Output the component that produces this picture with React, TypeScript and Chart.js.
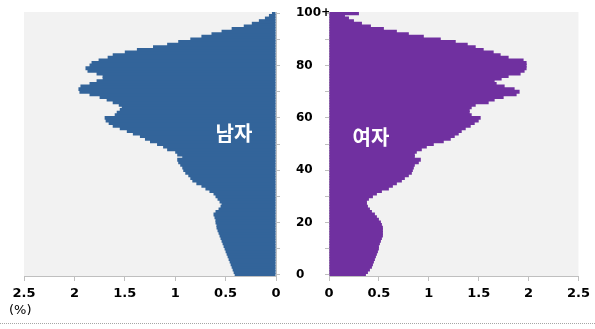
import React, { useEffect, useRef } from "react";
import { Chart, registerables } from "chart.js";

Chart.register(...registerables);

// Ages 0..100 (the last one is "100+")
const AGES: number[] = Array.from({ length: 101 }, (_, i) => i);

const MALE: number[] = [
  0.41, 0.42, 0.43, 0.44, 0.45, 0.46, 0.47, 0.48, 0.49, 0.50,
  0.51, 0.52, 0.53, 0.54, 0.55, 0.56, 0.57, 0.58, 0.59, 0.59,
  0.60, 0.60, 0.61, 0.62, 0.60, 0.57, 0.55, 0.54, 0.56, 0.58,
  0.60, 0.62, 0.66, 0.70, 0.74, 0.79, 0.83, 0.85, 0.87, 0.90,
  0.92, 0.93, 0.95, 0.97, 0.98, 0.93, 0.98, 1.00, 1.08, 1.12,
  1.18, 1.25, 1.30, 1.35, 1.42, 1.48, 1.55, 1.62, 1.66, 1.69,
  1.70, 1.60, 1.58, 1.55, 1.53, 1.56, 1.62, 1.68, 1.75, 1.85,
  1.95, 1.96, 1.94, 1.85, 1.78, 1.72, 1.72, 1.78, 1.87, 1.89,
  1.85, 1.83, 1.76, 1.67, 1.62, 1.50, 1.38, 1.22, 1.08, 0.97,
  0.85, 0.74, 0.64, 0.54, 0.44, 0.32, 0.24, 0.17, 0.11, 0.07,
  0.04,
];

const FEMALE: number[] = [
  0.37, 0.39, 0.41, 0.43, 0.44, 0.45, 0.46, 0.47, 0.48, 0.49,
  0.50, 0.50, 0.51, 0.52, 0.53, 0.54, 0.54, 0.54, 0.54, 0.53,
  0.52, 0.50, 0.48, 0.46, 0.43, 0.41, 0.39, 0.38, 0.38, 0.40,
  0.44, 0.48, 0.53, 0.60, 0.64, 0.68, 0.73, 0.76, 0.80, 0.83,
  0.84, 0.85, 0.86, 0.90, 0.92, 0.86, 0.86, 0.88, 0.93, 0.98,
  1.05, 1.15, 1.22, 1.26, 1.30, 1.33, 1.37, 1.42, 1.46, 1.50,
  1.52, 1.43, 1.41, 1.41, 1.43, 1.47, 1.60, 1.66, 1.75, 1.88,
  1.91, 1.86, 1.76, 1.68, 1.66, 1.73, 1.80, 1.92, 1.96, 1.98,
  1.98, 1.98, 1.95, 1.80, 1.72, 1.65, 1.55, 1.47, 1.39, 1.27,
  1.12, 0.95, 0.80, 0.68, 0.55, 0.42, 0.33, 0.25, 0.20, 0.16,
  0.30,
];

const AGE_TICKS: number[] = [0, 10, 20, 30, 40, 50, 60, 70, 80, 90, 100];
const AGE_LABELS: string[] = ["0", "", "20", "", "40", "", "60", "", "80", "", "100+"];
const PCT_TICKS: number[] = [0, 0.5, 1, 1.5, 2, 2.5];
const PCT_LABELS: string[] = ["0", "0.5", "1", "1.5", "2", "2.5"];

const MALE_COLOR = "#33649a";
const FEMALE_COLOR = "#7030a0";
const AXIS_COLOR = "#bfbfbf";
const PANEL_BG = "#f2f2f2";

const bgPlugin = {
  id: "panelBg",
  beforeDraw(chart: any) {
    const { ctx, chartArea: a } = chart;
    ctx.save();
    ctx.fillStyle = PANEL_BG;
    ctx.fillRect(a.left, a.top, a.right - a.left, a.bottom - a.top);
    ctx.restore();
  },
};

function makeConfig(side: "male" | "female"): any {
  const isMale = side === "male";
  const values = isMale ? MALE : FEMALE;
  const data = AGES.map((age, i) => ({ x: values[i], y: age }));
  return {
    type: "bar",
    data: {
      datasets: [
        {
          label: isMale ? "남자" : "여자",
          data,
          backgroundColor: isMale ? MALE_COLOR : FEMALE_COLOR,
          borderWidth: 0,
          barPercentage: 1.5,
          categoryPercentage: 1,
        },
      ],
    },
    plugins: [bgPlugin],
    options: {
      indexAxis: "y",
      responsive: false,
      animation: false,
      events: [],
      layout: {
        padding: isMale
          ? { left: 24, top: 12, right: 0, bottom: 0 }
          : { left: 6, top: 12, right: 12, bottom: 0 },
      },
      plugins: { legend: { display: false }, tooltip: { enabled: false } },
      scales: {
        x: {
          type: "linear",
          min: 0,
          max: 2.5,
          reverse: isMale,
          position: "bottom",
          afterBuildTicks: (s: any) => {
            s.ticks = PCT_TICKS.map((v) => ({ value: v }));
          },
          afterFit: (s: any) => {
            s.height = 53;
          },
          ticks: {
            autoSkip: false,
            maxRotation: 0,
            padding: 5,
            color: "#000",
            font: { family: "'DejaVu Sans', Verdana, sans-serif", size: 13, weight: "bold" },
            callback: (v: number) => PCT_LABELS[PCT_TICKS.indexOf(v)] ?? "",
          },
          grid: {
            drawOnChartArea: false,
            drawTicks: true,
            tickLength: 5,
            color: AXIS_COLOR,
            tickColor: AXIS_COLOR,
          },
          border: { display: true, color: AXIS_COLOR },
        },
        y: {
          type: "linear",
          min: -0.5,
          max: 100.5,
          bounds: "data",
          offset: false,
          position: isMale ? "right" : "left",
          afterBuildTicks: (s: any) => {
            s.ticks = AGE_TICKS.map((v) => ({ value: v }));
          },
          afterFit: (s: any) => {
            s.width = isMale ? 14 : 33;
          },
          ticks: {
            display: !isMale,
            autoSkip: false,
            crossAlign: "far",
            color: "#000",
            font: { family: "'DejaVu Sans', Verdana, sans-serif", size: 12, weight: "bold" },
            callback: (v: number) => AGE_LABELS[AGE_TICKS.indexOf(v)] ?? "",
          },
          grid: {
            offset: false,
            drawOnChartArea: false,
            drawTicks: true,
            tickLength: 4,
            color: AXIS_COLOR,
            tickColor: AXIS_COLOR,
          },
          border: { display: true, color: AXIS_COLOR },
        },
      },
    },
  };
}

function Panel({ side, left, width }: { side: "male" | "female"; left: number; width: number }) {
  const ref = useRef<HTMLCanvasElement | null>(null);
  useEffect(() => {
    if (!ref.current) return;
    const chart = new Chart(ref.current, makeConfig(side));
    return () => chart.destroy();
  }, [side]);
  return (
    <canvas
      ref={ref}
      width={width}
      height={329}
      style={{ position: "absolute", left, top: 0, width, height: 329 }}
    />
  );
}

const labelStyle: React.CSSProperties = {
  position: "absolute",
  transform: "translate(-50%, -50%)",
  color: "#ffffff",
  fontFamily: "'Noto Sans CJK KR', sans-serif",
  fontWeight: 700,
  fontSize: 20,
  lineHeight: 1,
  whiteSpace: "nowrap",
};

export default function App() {
  return (
    <div
      style={{
        position: "absolute",
        left: 0,
        top: 0,
        width: 595,
        height: 329,
        background: "#ffffff",
        overflow: "hidden",
      }}
    >
      <Panel side="male" left={0} width={290} />
      <Panel side="female" left={290} width={305} />
      <div style={{ ...labelStyle, left: 234, top: 133 }}>남자</div>
      <div style={{ ...labelStyle, left: 371, top: 137 }}>여자</div>
      <div
        style={{
          position: "absolute",
          left: 9,
          top: 303,
          fontFamily: "'DejaVu Sans', Verdana, sans-serif",
          fontSize: 13,
          color: "#000",
          lineHeight: 1,
        }}
      >
        (%)
      </div>
      <div
        style={{
          position: "absolute",
          left: 0,
          top: 323,
          width: 595,
          height: 0,
          borderTop: "1px dotted #a6a6a6",
        }}
      />
    </div>
  );
}
